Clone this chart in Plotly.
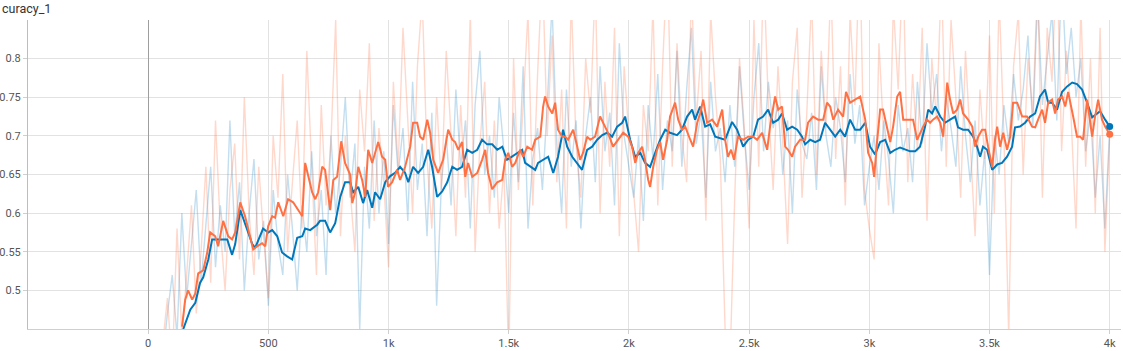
import plotly.graph_objects as go

# ---------------- data ----------------
raw_steps = list(range(40, 4001, 20))

blue_raw = [
    .38, .41, .47, .52, .44, .60, .49, .56, .63, .51,
    .58, .66, .53, .61, .55, .72, .57, .64, .50, .60,
    .67, .54, .59, .48, .63, .56, .52, .65, .58, .50,
    .61, .55, .68, .57, .63, .52, .70, .60, .66, .75,
    .62, .69, .45, .66, .58, .72, .60, .68, .56, .74,
    .65, .71, .59, .77, .63, .69, .57, .73, .48, .64,
    .70, .61, .76, .66, .72, .58, .74, .81, .65, .70,
    .62, .75, .68, .60, .73, .64, .79, .58, .67, .71,
    .63, .74, .87, .69, .60, .76, .66, .72, .58, .70,
    .75, .64, .79, .68, .73, .61, .82, .70, .66, .62,
    .70, .59, .74, .67, .78, .63, .72, .68, .81, .66,
    .76, .84, .69, .73, .62, .77, .68, .71, .64, .74,
    .66, .79, .70, .63, .75, .82, .68, .77, .71, .74,
    .65, .72, .60, .76, .69, .67, .73, .63, .79, .70,
    .66, .75, .71, .64, .78, .69, .74, .61, .66, .70,
    .63, .72, .67, .60, .74, .68, .71, .64, .77, .69,
    .82, .73, .78, .68, .75, .71, .66, .79, .70, .64,
    .72, .61, .68, .52, .70, .65, .74, .69, .78, .72,
    .76, .83, .71, .88, .74, .80, .86, .72, .91, .78,
    .84, .75, .80, .68, .73, .62, .70, .58, .71,
]

orange_raw = [
    .38, .43, .49, .40, .58, .44, .52, .61, .47, .55,
    .66, .51, .72, .58, .50, .63, .69, .54, .75, .60,
    .52, .66, .57, .49, .70, .62, .78, .55, .64, .72,
    .58, .81, .66, .52, .74, .61, .69, .85, .57, .70,
    .63, .55, .76, .68, .82, .59, .71, .64, .53, .77,
    .66, .84, .72, .60, .79, .88, .67, .58, .75, .63,
    .81, .70, .57, .74, .62, .86, .55, .69, .77, .60,
    .72, .58, .66, .40, .80, .63, .74, .86, .61, .78,
    .92, .70, .83, .64, .76, .58, .88, .69, .62, .80,
    .73, .90, .60, .77, .66, .84, .57, .79, .70, .62,
    .55, .74, .68, .87, .61, .79, .93, .66, .82, .70,
    .64, .89, .72, .81, .59, .86, .75, .67, .45, .40,
    .62, .80, .71, .58, .85, .66, .92, .74, .63, .79,
    .69, .56, .77, .84, .62, .73, .88, .65, .81, .71,
    .90, .67, .79, .61, .86, .74, .95, .63, .58, .54,
    .82, .70, .61, .87, .76, .93, .64, .78, .68, .84,
    .59, .80, .72, .91, .66, .85, .75, .62, .81, .69,
    .57, .76, .67, .83, .60, .88, .70, .44, .79, .86,
    .65, .80, .73, .90, .62, .84, .77, .94, .68, .81,
    .72, .58, .87, .66, .80, .60, .84, .55, .70,
]

blue_steps = [
    146, 175, 196, 216, 229, 250, 266, 287, 308, 329,
    349, 362, 383, 412, 433, 445, 466, 478, 499, 516,
    537, 557, 578, 599, 620, 641, 653, 674, 703, 715,
    736, 757, 778, 799, 819, 840, 853, 874, 894, 911,
    932, 944, 965, 986, 1007, 1027, 1048, 1069, 1082, 1102,
    1123, 1144, 1165, 1181, 1202, 1223, 1244, 1265, 1285, 1306,
    1327, 1348, 1369, 1389, 1410, 1431, 1452, 1473, 1493, 1514,
    1535, 1556, 1568, 1589, 1610, 1622, 1643, 1664, 1685, 1705,
    1726, 1743, 1764, 1785, 1805, 1826, 1847, 1868, 1889, 1909,
    1930, 1951, 1972, 1984, 2005, 2026, 2047, 2067, 2088, 2109,
    2130, 2151, 2171, 2200, 2221, 2242, 2263, 2275, 2296, 2317,
    2338, 2359, 2379, 2400, 2429, 2450, 2475, 2496, 2517, 2537,
    2558, 2579, 2600, 2621, 2637, 2658, 2679, 2700, 2720, 2733,
    2754, 2775, 2795, 2816, 2837, 2858, 2879, 2899, 2920, 2941,
    2962, 2983, 3003, 3024, 3045, 3066, 3087, 3107, 3128, 3149,
    3170, 3191, 3211, 3232, 3245, 3261, 3274, 3295, 3315, 3336,
    3357, 3369, 3390, 3411, 3432, 3448, 3461, 3473, 3490, 3511,
    3532, 3552, 3573, 3594, 3606, 3627, 3648, 3669, 3690, 3710,
    3731, 3744, 3760, 3781, 3802, 3823, 3844, 3864, 3885, 3906,
    3927, 3948, 3960, 3981, 4000,
]

blue_smooth = [
    .45, .475, .484, .51, .517, .54, .566, .566, .566, .566,
    .546, .56, .604, .578, .56, .555, .57, .58, .575, .578,
    .57, .549, .544, .54, .568, .57, .58, .578, .585, .59,
    .59, .575, .587, .621, .64, .64, .627, .634, .613, .63,
    .607, .627, .618, .64, .648, .652, .66, .652, .64, .66,
    .652, .66, .682, .66, .621, .628, .64, .66, .656, .66,
    .682, .678, .682, .695, .689, .689, .682, .686, .669, .673,
    .678, .682, .665, .66, .656, .665, .669, .673, .652, .673,
    .708, .686, .673, .665, .656, .682, .686, .695, .701, .704,
    .699, .712, .717, .725, .695, .673, .678, .665, .66, .678,
    .695, .708, .704, .701, .708, .725, .734, .721, .738, .712,
    .715, .699, .697, .695, .718, .708, .686, .695, .699, .721,
    .725, .734, .717, .721, .729, .708, .712, .708, .699, .689,
    .695, .692, .695, .717, .708, .699, .708, .699, .721, .708,
    .708, .717, .686, .676, .692, .695, .678, .682, .685, .682,
    .68, .68, .686, .712, .734, .729, .738, .725, .717, .721,
    .725, .711, .708, .708, .699, .686, .673, .686, .682, .656,
    .663, .665, .673, .686, .711, .712, .717, .725, .729, .751,
    .76, .743, .743, .734, .757, .764, .769, .767, .76, .743,
    .724, .729, .732, .721, .712,
]

orange_steps = [
    141, 154, 166, 183, 196, 208, 229, 245, 258, 279,
    291, 312, 333, 349, 362, 383, 403, 424, 437, 453,
    474, 487, 499, 516, 528, 541, 562, 582, 603, 624,
    641, 653, 666, 682, 695, 707, 724, 736, 757, 770,
    786, 803, 819, 840, 849, 861, 874, 890, 903, 915,
    932, 944, 957, 973, 986, 998, 1015, 1036, 1048, 1069,
    1090, 1102, 1119, 1131, 1144, 1161, 1173, 1186, 1206, 1227,
    1248, 1265, 1277, 1290, 1306, 1319, 1331, 1348, 1369, 1389,
    1402, 1414, 1431, 1452, 1473, 1485, 1498, 1514, 1527, 1547,
    1560, 1577, 1597, 1610, 1631, 1643, 1651, 1664, 1681, 1693,
    1705, 1722, 1735, 1747, 1768, 1785, 1797, 1809, 1826, 1839,
    1859, 1880, 1893, 1913, 1934, 1955, 1976, 1997, 2013, 2026,
    2038, 2055, 2067, 2080, 2088, 2101, 2117, 2130, 2142, 2159,
    2171, 2192, 2205, 2221, 2234, 2255, 2267, 2284, 2296, 2309,
    2325, 2346, 2367, 2388, 2400, 2412, 2425, 2437, 2454, 2475,
    2496, 2517, 2533, 2554, 2575, 2587, 2608, 2621, 2637, 2650,
    2662, 2679, 2691, 2712, 2733, 2745, 2766, 2787, 2808, 2824,
    2837, 2850, 2870, 2891, 2903, 2920, 2941, 2962, 2983, 2995,
    3012, 3020, 3032, 3045, 3057, 3074, 3087, 3099, 3116, 3128,
    3141, 3161, 3182, 3199, 3211, 3224, 3240, 3253, 3265, 3282,
    3295, 3307, 3324, 3336, 3349, 3365, 3378, 3390, 3411, 3428,
    3440, 3453, 3469, 3482, 3494, 3511, 3523, 3532, 3544, 3557,
    3573, 3586, 3598, 3615, 3636, 3656, 3677, 3690, 3702, 3719,
    3731, 3744, 3760, 3773, 3785, 3802, 3815, 3827, 3848, 3864,
    3877, 3889, 3906, 3918, 3927, 3939, 3952, 3968, 3981, 4000,
]

orange_smooth = [
    .453, .488, .5, .488, .496, .522, .526, .548, .575, .57,
    .557, .59, .57, .566, .575, .614, .596, .57, .553, .557,
    .561, .557, .583, .596, .594, .614, .596, .618, .614, .604,
    .596, .665, .647, .627, .618, .627, .66, .656, .604, .643,
    .647, .693, .665, .65, .613, .627, .66, .643, .621, .682,
    .665, .678, .692, .673, .669, .634, .64, .656, .643, .66,
    .686, .717, .717, .699, .695, .721, .704, .669, .652, .669,
    .708, .695, .692, .682, .692, .647, .665, .647, .652, .669,
    .682, .652, .631, .64, .643, .669, .678, .66, .665, .682,
    .673, .686, .682, .695, .699, .738, .751, .738, .729, .743,
    .708, .699, .699, .695, .708, .686, .669, .678, .699, .695,
    .699, .725, .717, .704, .686, .695, .704, .699, .686, .665,
    .678, .686, .669, .643, .634, .66, .682, .692, .669, .695,
    .725, .743, .721, .708, .712, .695, .686, .717, .729, .747,
    .717, .721, .712, .734, .695, .673, .682, .669, .699, .695,
    .699, .699, .695, .704, .682, .712, .751, .734, .738, .686,
    .682, .673, .686, .695, .695, .717, .725, .721, .721, .743,
    .738, .721, .734, .725, .757, .743, .747, .751, .721, .678,
    .665, .647, .692, .734, .734, .712, .692, .712, .751, .757,
    .721, .721, .721, .695, .704, .712, .721, .717, .721, .725,
    .717, .699, .769, .747, .729, .734, .747, .729, .721, .712,
    .686, .699, .708, .708, .686, .66, .695, .712, .686, .704,
    .682, .699, .743, .743, .725, .725, .712, .711, .721, .734,
    .717, .743, .747, .729, .747, .751, .738, .757, .725, .699,
    .699, .695, .747, .721, .699, .725, .747, .721, .712, .702,
]

assert len(raw_steps) == len(blue_raw) == len(orange_raw), (len(raw_steps), len(blue_raw), len(orange_raw))
assert len(blue_steps) == len(blue_smooth), (len(blue_steps), len(blue_smooth))
assert len(orange_steps) == len(orange_smooth), (len(orange_steps), len(orange_smooth))

x_tickvals = [0, 500, 1000, 1500, 2000, 2500, 3000, 3500, 4000]
x_ticktext = ["0", "500", "1k", "1.5k", "2k", "2.5k", "3k", "3.5k", "4k"]
y_tickvals = [0.5, 0.55, 0.6, 0.65, 0.7, 0.75, 0.8]
y_ticktext = ["0.5", "0.55", "0.6", "0.65", "0.7", "0.75", "0.8"]
title_text = "curacy_1"

BLUE = "#0077bb"
ORANGE = "#ff7043"

# ---------------- figure ----------------
fig = go.Figure()
fig.add_trace(go.Scatter(x=raw_steps, y=blue_raw, mode="lines",
                         line=dict(color="rgba(0,119,187,0.24)", width=1.4),
                         hoverinfo="skip"))
fig.add_trace(go.Scatter(x=raw_steps, y=orange_raw, mode="lines",
                         line=dict(color="rgba(255,112,67,0.27)", width=1.4),
                         hoverinfo="skip"))
fig.add_trace(go.Scatter(x=blue_steps, y=blue_smooth, mode="lines",
                         line=dict(color=BLUE, width=2)))
fig.add_trace(go.Scatter(x=orange_steps, y=orange_smooth, mode="lines",
                         line=dict(color=ORANGE, width=2)))
fig.add_trace(go.Scatter(x=[blue_steps[-1]], y=[blue_smooth[-1]], mode="markers",
                         marker=dict(color=BLUE, size=7), cliponaxis=False))
fig.add_trace(go.Scatter(x=[orange_steps[-1]], y=[orange_smooth[-1]], mode="markers",
                         marker=dict(color=ORANGE, size=7), cliponaxis=False))

W, H = 1123, 351
ml, mr, mt, mb = 28, 2, 20, 22
pw = W - ml - mr
ph = H - mt - mb

fig.update_layout(
    width=W, height=H,
    margin=dict(l=ml, r=mr, t=mt, b=mb, pad=0, autoexpand=False),
    paper_bgcolor="white", plot_bgcolor="white",
    showlegend=False,
    font=dict(family="Roboto, Arial, sans-serif", size=11, color="#555"),
    xaxis=dict(range=[-500, 4047], tickvals=x_tickvals, ticktext=x_ticktext,
               automargin=False,
               showgrid=True, gridcolor="#e2e2e2", gridwidth=1,
               zeroline=True, zerolinecolor="#9e9e9e", zerolinewidth=1,
               showline=True, linecolor="#cfcfcf", linewidth=1,
               ticks="outside", ticklen=4, tickcolor="#cfcfcf",
               tickfont=dict(size=11, color="#555")),
    yaxis=dict(range=[0.45, 0.85], tickvals=y_tickvals, ticktext=y_ticktext,
               automargin=False,
               showgrid=True, gridcolor="#e2e2e2", gridwidth=1,
               zeroline=False,
               showline=True, linecolor="#bdbdbd", linewidth=1,
               ticks="outside", ticklen=4, tickcolor="#cfcfcf",
               tickfont=dict(size=11, color="#555")),
    annotations=[dict(text=title_text, xref="paper", yref="paper",
                      x=-ml / pw, y=1 + 12 / ph, xanchor="left", yanchor="middle",
                      showarrow=False, font=dict(size=12.5, color="#333"))],
)

fig.write_html("out.html")
